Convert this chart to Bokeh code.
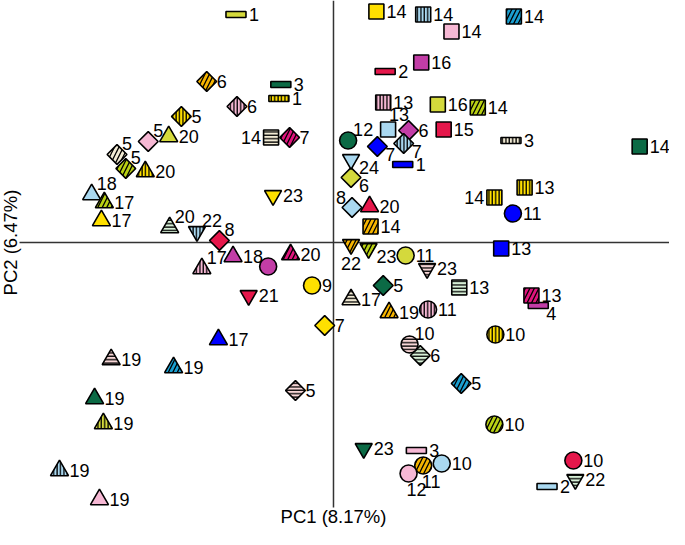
import numpy as np
from bokeh.plotting import figure
from bokeh.models import ColumnDataSource, Range1d, Label
from bokeh.core.properties import value
from bokeh.embed import file_html
from bokeh.resources import INLINE

# ---- data (PC scores) ----
pc1 = [-1.00, -1.30, -0.54, -0.56, -0.99, -1.56, -1.90, -1.69, -2.22, -2.13,
       -1.93, -2.48, -2.35, -2.38, -0.64, -0.45, -0.62, -1.68, -1.40, -1.17,
       -1.35, -1.03, -0.67, -0.44, -0.87, -0.22, -0.09, -1.18, -2.28, -1.64,
       -2.45, -2.36, -2.81, -2.40, -0.39, 0.44, 0.92, 1.21, 1.85, 0.53,
       0.90, 0.51, 1.07, 1.48, 0.56, 0.77, 1.13, 0.15, 0.45, 0.72,
       1.82, 0.71, 3.14, 0.18, 0.18, 0.19, 0.37, 0.38, 1.65, 1.96,
       1.84, 1.72, 0.18, 0.36, 0.74, 0.96, 1.29, 0.51, 0.18, 0.57,
       0.97, 2.03, 2.10, 1.66, 0.78, 0.89, 1.31, 1.65, 0.31, 0.85,
       0.92, 1.11, 0.77, 2.46, 2.48, 2.19]
pc2 = [2.28, 1.61, 1.58, 1.44, 1.36, 1.26, 1.01, 1.06, 0.88, 0.74,
       0.71, 0.48, 0.40, 0.22, 1.05, 1.05, 0.47, 0.15, 0.11, 0.02,
       -0.26, -0.14, -0.24, -0.12, -0.53, -0.43, -0.83, -0.97, -1.17, -1.25,
       -1.56, -1.81, -2.28, -2.57, -1.48, 2.31, 2.28, 2.11, 2.26, 1.71,
       1.80, 1.40, 1.38, 1.35, 1.13, 1.12, 1.13, 1.02, 0.96, 0.99,
       1.02, 0.78, 0.96, 0.83, 0.65, 0.35, 0.36, 0.16, 0.45, 0.55,
       0.29, -0.06, -0.02, -0.06, -0.13, -0.26, -0.45, -0.43, -0.57, -0.70,
       -0.67, -0.53, -0.63, -0.92, -1.02, -1.13, -1.41, -1.82, -2.06, -2.08,
       -2.23, -2.21, -2.31, -2.18, -2.37, -2.44]
point_labels = ["1", "6", "3", "1", "6", "5", "5", "20", "5", "5",
                "20", "18", "17", "17", "14", "7", "23", "20", "22", "8",
                "17", "18", "", "20", "21", "9", "7", "17", "19", "19",
                "19", "19", "19", "19", "5", "14", "14", "14", "14", "2",
                "16", "13", "16", "14", "13", "6", "15", "12", "7", "7",
                "3", "1", "14", "24", "6", "8", "20", "14", "14", "13",
                "11", "13", "22", "23", "11", "23", "13", "5", "17", "19",
                "11", "13", "4", "10", "10", "6", "5", "10", "23", "3",
                "11", "10", "12", "10", "22", "2"]
# symbol type, colour group and hatch group of each point
shape_key = ["bar", "dia", "bar", "bar", "dia", "dia", "dia", "tri", "dia", "dia",
             "tri", "tri", "tri", "tri", "sq", "dia", "inv", "tri", "inv", "dia",
             "tri", "tri", "circ", "tri", "inv", "circ", "dia", "tri", "tri", "tri",
             "tri", "tri", "tri", "tri", "dia", "sq", "sq", "sq", "sq", "bar",
             "sq", "sq", "sq", "sq", "sq", "dia", "sq", "circ", "dia", "dia",
             "bar", "bar", "sq", "inv", "dia", "dia", "tri", "sq", "sq", "sq",
             "circ", "sq", "inv", "inv", "circ", "inv", "sq", "dia", "tri", "tri",
             "circ", "sq", "bar", "circ", "circ", "dia", "dia", "circ", "inv", "bar",
             "circ", "circ", "circ", "circ", "inv", "bar"]
color_key = ["yg", "orange", "dkgreen", "yellow", "pink", "yellow", "pink", "yg", "cream", "yg2",
             "yellow", "ltblue", "yg2", "yellow", "cream", "deeppink", "yellow", "ltgreen", "ltblue", "red",
             "pink", "magenta", "magenta", "deeppink", "red", "yellow", "yellow", "blue", "pinkh", "cyan",
             "dkgreen", "yg", "ltblue", "pink", "pinkh", "yellow", "ltblue", "pink", "cyan", "red",
             "magenta", "pink", "yg", "yg2", "ltblue", "magenta", "red", "dkgreen", "blue", "ltblue",
             "cream", "blue", "dkgreen", "ltblue", "yg", "ltblue", "red", "orange", "yellow", "yellow",
             "blue", "blue", "orange", "yg2", "yg", "pinkh", "ltgreen", "dkgreen", "cream", "orange",
             "pink", "deeppink", "magenta", "yellow", "pinkh", "ltgreen", "cyan", "yg2", "dkgreen", "pink",
             "orange", "ltblue", "pink", "red", "ltgreen", "ltblue"]
hatch_key = ["", "/", "", "|", "|", "|", "", "", "/", "/",
             "|", "", "/", "", "-", "/", "", "-", "|", "",
             "|", "", "", "/", "", "", "", "", "-", "/",
             "", "|", "|", "", "-", "", "|", "", "/", "",
             "", "|", "", "/", "", "", "", "", "", "|",
             "|", "", "", "", "", "", "", "/", "|", "|",
             "", "", "/", "/", "", "-", "-", "", "-", "/",
             "|", "/", "", "|", "-", "-", "/", "/", "", "",
             "/", "", "", "", "-", ""]
label_side = ["r", "r", "r", "r", "r", "r", "tr", "r", "tr", "tr",
              "r", "tr", "r", "r", "l", "r", "r", "tr", "tr", "tr",
              "tr", "r", "r", "r", "r", "r", "r", "r", "r", "r",
              "r", "r", "r", "r", "r", "r", "r", "r", "r", "r",
              "r", "r", "r", "r", "t", "r", "r", "tr", "br", "br",
              "r", "r", "r", "br", "br", "tl", "r", "r", "l", "r",
              "r", "r", "bc", "br", "r", "r", "r", "r", "r", "r",
              "r", "r", "br", "r", "tr", "r", "r", "r", "r", "r",
              "b", "r", "b", "r", "r", "r"]

# ---- styles ----
COLORS = {
    "yellow": "#ffe000", "yg": "#d4d93c", "yg2": "#b9d114", "ltblue": "#a9d8f0",
    "pink": "#f6b8d4", "pinkh": "#f7d6d6", "dkgreen": "#0b6a45", "blue": "#0000ff",
    "red": "#e5174b", "magenta": "#c23da6", "deeppink": "#e0157c", "orange": "#f6b400",
    "cyan": "#1a9fd0", "cream": "#f3ecd5", "ltgreen": "#d8f1d8",
}
HATCH = {"": "blank", "|": "vertical_line", "-": "horizontal_line", "/": "right_diagonal_line"}
HSCALE = {"": 4.0, "|": 3.4, "-": 3.4, "/": 9.0}
SIDE = {  # dx, dy (screen px), align
    "r": (10, 0, "left"), "l": (-10, 0, "right"), "tr": (5, -11, "left"),
    "t": (1, -15, "left"), "br": (8, 8, "left"), "bc": (0, 19, "center"),
    "b": (8, 16, "center"), "tl": (-6, -10, "right"),
}

p = figure(width=669, height=529, x_range=Range1d(-3.415, 3.446), y_range=Range1d(-2.87, 2.42),
           output_backend="svg", toolbar_location=None, x_axis_type=None, y_axis_type=None,
           min_border=0, min_border_left=0, min_border_right=0, min_border_top=0, min_border_bottom=0)
p.grid.visible = False
p.outline_line_color = None
p.background_fill_color = "white"

# axis cross
p.segment(x0=[0, -3.22], y0=[2.42, 0], x1=[0, 3.446], y1=[-2.65, 0], line_color="#333333", line_width=1.5)

n = len(pc1)
def src_for(kind):
    idx = [i for i in range(n) if shape_key[i] == kind]
    return ColumnDataSource(dict(
        x=[pc1[i] for i in idx], y=[pc2[i] for i in idx],
        fill=[COLORS[color_key[i]] for i in idx],
        hatch=[HATCH[hatch_key[i]] for i in idx],
        hscale=[HSCALE[hatch_key[i]] for i in idx],
    ))

common = dict(fill_color="fill", line_color="black", line_width=1.6,
              hatch_pattern="hatch", hatch_scale="hscale", hatch_color="black", hatch_weight=1.3)

p.rect(x="x", y="y", width=20, height=6, width_units="screen", height_units="screen",
       source=src_for("bar"), **common)
p.scatter(x="x", y="y", marker="square", size=15, source=src_for("sq"), **common)
p.scatter(x="x", y="y", marker="square", size=14, angle=np.pi / 4, source=src_for("dia"), **common)
p.scatter(x="x", y="y", marker="triangle", size=18, source=src_for("tri"), **common)
p.scatter(x="x", y="y", marker="inverted_triangle", size=17, source=src_for("inv"), **common)
p.scatter(x="x", y="y", marker="circle", size=17, source=src_for("circ"), **common)

# point labels
dx, dy, al = [], [], []
for i in range(n):
    ox, oy, a = SIDE[label_side[i]]
    if shape_key[i] == "bar" and label_side[i] == "r":
        ox = 13
    dx.append(ox); dy.append(oy); al.append(a)
lab_src = ColumnDataSource(dict(x=pc1, y=pc2, text=point_labels, dx=dx, dy=dy, al=al))
p.text(x="x", y="y", text="text", x_offset="dx", y_offset="dy", text_align="al",
       text_baseline="middle", text_font=value("Liberation Sans"), text_font_size="18px",
       text_color="black", source=lab_src)

# axis titles
p.add_layout(Label(x=0, y=-2.74, text="PC1 (8.17%)", text_align="center", text_baseline="middle",
                   text_font="Liberation Sans", text_font_size="18.5px", text_color="black"))
p.add_layout(Label(x=-3.31, y=0, text="PC2 (6.47%)", angle=np.pi / 2, text_align="center",
                   text_baseline="middle", text_font="Liberation Sans", text_font_size="18.5px",
                   text_color="black"))

open("out.html", "w").write(file_html(p, INLINE))
